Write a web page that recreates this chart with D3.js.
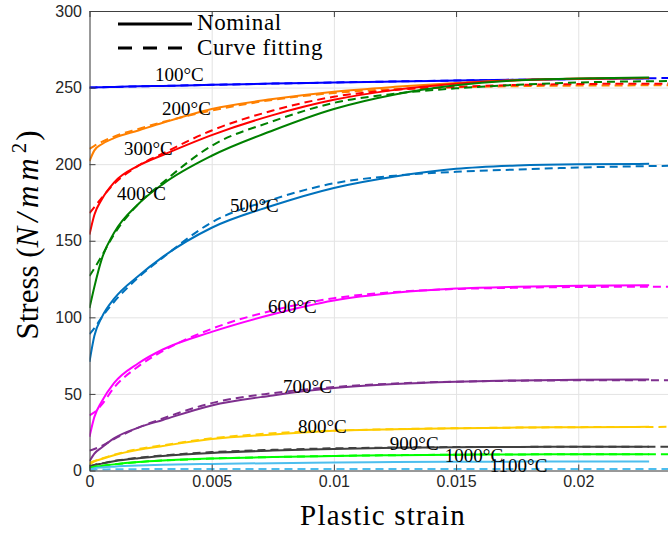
<!DOCTYPE html>
<html>
<head>
<meta charset="utf-8">
<script src="https://cdn.jsdelivr.net/npm/d3@7"></script>
<style>
    body { margin: 0; background: #fff; }
    .tick text { font-family: "Liberation Sans", Arial, sans-serif; font-size: 16px; fill: #262626; }
    .axis path, .axis line { stroke: #404040; }
    .grid line { stroke: #e3e3e3; }
    .grid path { display: none; }
    .serif { font-family: "Liberation Serif", "Times New Roman", Times, "DejaVu Serif", serif; fill: #000; }
    .temp-label { font-size: 19px; }
</style>
</head>
<body>
<div id="chart"></div>
<script>

// strain samples (nominal curves stop a bit earlier than the fitted ones)
const strainNom = [0, 0.0002, 0.0005, 0.001, 0.002, 0.003, 0.005, 0.0075, 0.01, 0.0125, 0.015, 0.0175, 0.02, 0.0229];
const strainFit = [0, 0.0002, 0.0005, 0.001, 0.002, 0.003, 0.005, 0.0075, 0.01, 0.0125, 0.015, 0.0175, 0.02, 0.024];

const temperatures = ['100°C', '200°C', '300°C', '400°C', '500°C', '600°C', '700°C', '800°C', '900°C', '1000°C', '1100°C'];
const colors = ['#0000ff', '#ff8000', '#ff0000', '#008000', '#0072bd', '#ff00ff', '#7e2f8e', '#ffcc00', '#404040', '#00ff00', '#4dbeee'];

const nom100 = [250, 250.1, 250.2, 250.4, 250.8, 251.1, 251.8, 252.6, 253.3, 254, 254.6, 255.1, 255.6, 256];
const fit100 = [250, 250.1, 250.2, 250.4, 250.8, 251.1, 251.8, 252.6, 253.3, 254, 254.6, 255.1, 255.6, 256.3];
const nom200 = [202, 209, 213, 217, 222, 227, 236, 242.5, 247.3, 250.5, 253, 254.8, 255.8, 256.3];
const fit200 = [210, 212, 214.5, 218, 223, 227.5, 235, 242, 246.5, 249, 250.2, 250.9, 251.3, 251.5];
const nom300 = [154, 167, 177, 188, 199, 206, 219, 232, 242, 248.5, 252.5, 254.8, 255.8, 256.3];
const fit300 = [168, 172, 178, 187, 199, 207, 222, 235, 244, 248.5, 250.5, 251.7, 252.3, 252.6];
const nom400 = [106, 120, 138, 155, 174, 187, 205.5, 222, 236, 245.5, 251.5, 254.8, 256, 256.6];
const fit400 = [127, 132, 140, 154, 174, 188, 212, 228, 240, 246, 249.5, 251.8, 253.3, 254.3];
const nom500 = [71, 88, 100, 112, 127, 139.5, 158.5, 173, 184.5, 192, 197, 199.2, 200, 200.2];
const fit500 = [89, 93, 100, 110, 126, 139, 162, 177, 187.5, 192.5, 195, 196.5, 197.8, 199];
const nom600 = [22, 35, 45, 57, 70, 79, 90.5, 102, 111, 116, 118.8, 120, 120.6, 121];
const fit600 = [36, 38, 43, 54, 68, 78, 92.5, 104.5, 112.5, 116.5, 118.5, 119.3, 119.8, 120];
const nom700 = [6, 11, 15, 21, 28, 33, 42.5, 49, 53.8, 56.5, 58, 58.8, 59.2, 59.4];
const fit700 = [13, 14, 16, 20.5, 28, 34, 44, 50.5, 54.5, 56.8, 58, 58.6, 58.9, 59];
const nom800 = [4, 6, 7.5, 10, 13.5, 16, 20.5, 23.5, 26, 27, 27.6, 28, 28.3, 28.5];
const fit800 = [5, 6.2, 7.8, 10.3, 14, 16.5, 21, 24.3, 26, 27, 27.6, 28, 28.3, 28.5];
const nom900 = [2.5, 3.5, 4.5, 6, 8, 9.5, 11.5, 13, 14, 14.8, 15.2, 15.4, 15.5, 15.5];
const fit900 = [2.8, 3.6, 4.6, 6.2, 8.3, 9.8, 12, 13.5, 14.5, 15, 15.3, 15.4, 15.5, 15.5];
const nom1000 = [1.5, 2.5, 3, 4, 5.5, 6.5, 7.8, 8.8, 9.5, 10, 10.3, 10.5, 10.6, 10.6];
const fit1000 = [1.5, 2.5, 3, 4, 5.5, 6.5, 7.8, 8.8, 9.5, 10, 10.3, 10.5, 10.6, 10.6];
const nom1100 = [0.5, 1.5, 2, 2.5, 3.2, 3.7, 4.3, 4.8, 5.2, 5.5, 5.7, 5.8, 5.8, 5.8];
const fit1100 = [0.3, 0.5, 0.6, 0.8, 0.9, 1, 1, 1, 1, 1, 1, 1, 1, 1];

const nominalSeries = [nom100, nom200, nom300, nom400, nom500, nom600, nom700, nom800, nom900, nom1000, nom1100];
const fitSeries = [fit100, fit200, fit300, fit400, fit500, fit600, fit700, fit800, fit900, fit1000, fit1100];

// where each temperature label sits (left end of text, baseline), in data units
const labelStrain = [0.00268, 0.00297, 0.00141, 0.00113, 0.00575, 0.0073, 0.00792, 0.00853, 0.01229, 0.01454, 0.01638];
const labelStress = [254.2, 232, 205.9, 176.6, 168.9, 102.8, 50.4, 24.3, 13.4, 5.7, -1.2];

const xTicks = [0, 0.005, 0.01, 0.015, 0.02];
const xTickLabels = ['0', '0.005', '0.01', '0.015', '0.02'];
const yTicks = [0, 50, 100, 150, 200, 250, 300];

const width = 668, height = 533;
const plotLeft = 89.5, plotRight = 676, plotTop = 11, plotBottom = 470.5;

const svg = d3.select('#chart')
    .append('svg')
    .attr('width', width)
    .attr('height', height);

const x = d3.scaleLinear().domain([0, 0.024]).range([plotLeft, plotRight]);
const y = d3.scaleLinear().domain([0, 300]).range([plotBottom, plotTop]);

svg.append('defs').append('clipPath')
    .attr('id', 'plot-clip')
    .append('rect')
    .attr('x', plotLeft).attr('y', plotTop)
    .attr('width', plotRight - plotLeft).attr('height', plotBottom - plotTop);

/* grid */
svg.append('g')
    .attr('class', 'grid')
    .attr('transform', `translate(0,${plotBottom})`)
    .call(d3.axisBottom(x).tickValues(xTicks).tickSize(-(plotBottom - plotTop)).tickFormat(''));

svg.append('g')
    .attr('class', 'grid')
    .attr('transform', `translate(${plotLeft},0)`)
    .call(d3.axisLeft(y).tickValues(yTicks).tickSize(-(plotRight - plotLeft)).tickFormat(''));

/* curves */
const line = d3.line()
    .x(d => x(d[0]))
    .y(d => y(d[1]))
    .curve(d3.curveMonotoneX);

const curves = svg.append('g').attr('clip-path', 'url(#plot-clip)');

temperatures.forEach((t, i) => {
    curves.append('path')
        .datum(strainNom.map((s, j) => [s, nominalSeries[i][j]]))
        .attr('d', line)
        .attr('fill', 'none')
        .attr('stroke', colors[i])
        .attr('stroke-width', 2);

    curves.append('path')
        .datum(strainFit.map((s, j) => [s, fitSeries[i][j]]))
        .attr('d', line)
        .attr('fill', 'none')
        .attr('stroke', colors[i])
        .attr('stroke-width', 2)
        .attr('stroke-dasharray', '8,5');
});

/* axes, inward ticks like the original */
svg.append('g')
    .attr('class', 'axis')
    .attr('transform', `translate(0,${plotBottom})`)
    .call(d3.axisBottom(x).tickValues(xTicks)
        .tickFormat((d, i) => xTickLabels[i])
        .tickSizeInner(-6).tickSizeOuter(0).tickPadding(5));

svg.append('g')
    .attr('class', 'axis')
    .attr('transform', `translate(0,${plotTop})`)
    .call(d3.axisTop(x).tickValues(xTicks).tickFormat('')
        .tickSizeInner(-6).tickSizeOuter(0));

svg.append('g')
    .attr('class', 'axis')
    .attr('transform', `translate(${plotLeft},0)`)
    .call(d3.axisLeft(y).tickValues(yTicks)
        .tickSizeInner(-6).tickSizeOuter(0).tickPadding(7.5));

/* temperature labels */
svg.append('g')
    .selectAll('text')
    .data(temperatures)
    .join('text')
    .attr('class', 'serif temp-label')
    .attr('x', (d, i) => x(labelStrain[i]))
    .attr('y', (d, i) => y(labelStress[i]))
    .text(d => d);

/* axis titles */
svg.append('text')
    .attr('class', 'serif')
    .attr('x', 383)
    .attr('y', 525)
    .attr('text-anchor', 'middle')
    .style('font-size', '29px')
    .style('letter-spacing', '1.2px')
    .text('Plastic strain');

const yTitle = svg.append('text')
    .attr('class', 'serif')
    .attr('transform', 'translate(38,235) rotate(-90)')
    .attr('text-anchor', 'middle')
    .style('font-size', '31px');
yTitle.append('tspan').text('Stress (');
yTitle.append('tspan').style('font-style', 'italic').style('letter-spacing', '5px').text('N/mm');
yTitle.append('tspan').attr('dy', -12).style('font-size', '21px').text('2');
yTitle.append('tspan').attr('dy', 12).attr('dx', 2).text(')');

/* legend */
const legend = svg.append('g');
legend.append('line')
    .attr('x1', 118).attr('x2', 192).attr('y1', 24).attr('y2', 24)
    .attr('stroke', '#000').attr('stroke-width', 3);
legend.append('line')
    .attr('x1', 118).attr('x2', 192).attr('y1', 48).attr('y2', 48)
    .attr('stroke', '#000').attr('stroke-width', 3)
    .attr('stroke-dasharray', '14,11');
legend.selectAll('text')
    .data(['Nominal', 'Curve fitting'])
    .join('text')
    .attr('class', 'serif')
    .attr('x', 197)
    .attr('y', (d, i) => i ? 55 : 29.5)
    .style('font-size', '23px')
    .style('letter-spacing', '0.6px')
    .text(d => d);

</script>
</body>
</html>
